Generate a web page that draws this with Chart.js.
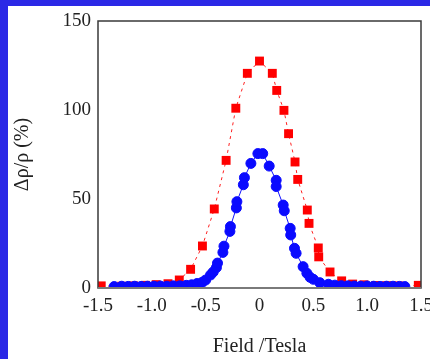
<!DOCTYPE html>
<html lang="en">

<head>
    <meta charset="UTF-8">
    <title>Magnetoresistance</title>
    <script src="https://cdn.jsdelivr.net/npm/chart.js"></script>
    <style>
        body { margin: 0; background: #2b28e6; }
        #painel { position: absolute; left: 8px; top: 6px; width: 422px; height: 353px; background: #fff; }
    </style>
</head>

<body>
    <div id="painel">
        <canvas id="grafico" width="422" height="353"></canvas>
    </div>
</body>

</html>
<script>
    // red squares (dashed line)
    const redField = [-1.47, -1.28, -1.17, -1.06, -0.96, -0.85, -0.745, -0.64, -0.53, -0.42, -0.31, -0.22, -0.113, 0,
        0.119, 0.16, 0.227, 0.27, 0.33, 0.355, 0.444, 0.46, 0.546, 0.55, 0.655, 0.763, 0.865, 0.97, 1.08, 1.18, 1.29, 1.475]
    const redRho = [1.2, 1, 1.2, 1.5, 1.9, 2.4, 4.5, 10.5, 23.6, 44.4, 71.7, 101, 120.6, 127.5,
        120.6, 111, 99.8, 86.7, 70.8, 61, 43.8, 36.3, 22.5, 17.5, 9, 4, 2.2, 1.8, 1.4, 1.3, 1.2, 1.5]

    // blue circles (solid line)
    const blueField = [-1.35, -1.28, -1.22, -1.16, -1.10, -1.04, -0.98, -0.92, -0.86, -0.80, -0.74, -0.68, -0.63, -0.58,
        -0.53, -0.50, -0.455, -0.43, -0.40, -0.39, -0.34, -0.33, -0.275, -0.27, -0.215, -0.21, -0.15, -0.14, -0.08,
        -0.015, 0.03, 0.09, 0.155, 0.155, 0.22, 0.23, 0.285, 0.29, 0.325, 0.34, 0.405, 0.44, 0.47, 0.5, 0.56, 0.64,
        0.7, 0.76, 0.82, 0.88, 0.94, 1.0, 1.06, 1.12, 1.18, 1.24, 1.30, 1.35]
    const blueRho = [0.8, 1.0, 0.9, 1.0, 0.9, 1.0, 1.0, 1.1, 1.0, 1.2, 1.2, 1.5, 1.8, 2.5,
        3.3, 4.5, 7.3, 9, 11.5, 14, 20, 23.5, 31.8, 34.5, 45, 48.5, 58, 62, 70,
        75.5, 75.5, 68.5, 60.5, 57, 46.6, 43.4, 33.5, 29.8, 22.3, 19.5, 12, 8.3, 6, 4.9, 3, 2.1,
        1.6, 1.3, 1.2, 1.1, 1.0, 1.1, 1.0, 0.9, 1.0, 1.0, 0.9, 0.8]

    const xTicks = [-1.5, -1.0, -0.5, 0, 0.5, 1.0, 1.5]
    const yTicks = [0, 50, 100, 150]

    const pares = (xs, ys) => xs.map((x, i) => ({ x: x, y: ys[i] }))

    const caixa = {
        id: 'caixa',
        afterDatasetsDraw(chart) {
            const a = chart.chartArea
            const ctx = chart.ctx
            ctx.save()
            ctx.strokeStyle = '#3a3a3a'
            ctx.lineWidth = 1.5
            ctx.strokeRect(a.left, a.top, a.right - a.left, a.bottom - a.top)
            ctx.strokeStyle = '#7a7a7a'
            ctx.lineWidth = 2
            ctx.beginPath()
            ctx.moveTo(a.left, a.bottom)
            ctx.lineTo(a.right, a.bottom)
            ctx.stroke()
            ctx.restore()
        }
    }

    const fonte = { family: 'Liberation Serif', size: 19 }
    const fonteTitulo = { family: 'Liberation Serif', size: 20 }

    new Chart(
        grafico,
        {
            type: 'scatter',
            data: {
                datasets: [{
                    data: pares(blueField, blueRho),
                    showLine: true,
                    borderColor: '#1010ff',
                    borderWidth: 1,
                    backgroundColor: '#0a0aff',
                    pointBorderColor: '#0a0aff',
                    pointBorderWidth: 1,
                    pointRadius: 5,
                    pointStyle: 'circle',
                    clip: 0
                },
                {
                    data: pares(redField, redRho),
                    showLine: true,
                    borderColor: '#ff2020',
                    borderWidth: 1,
                    borderDash: [3, 4],
                    backgroundColor: '#ff0000',
                    pointBorderWidth: 0,
                    pointRadius: 6.3,
                    pointStyle: 'rect',
                    clip: 0
                }]
            },
            options: {
                responsive: false,
                devicePixelRatio: 1,
                animation: false,
                layout: { padding: { top: 15, right: 9, left: 0, bottom: 0 } },
                plugins: { legend: { display: false }, tooltip: { enabled: false } },
                scales: {
                    x: {
                        type: 'linear',
                        min: -1.5,
                        max: 1.5,
                        afterFit: s => { s.height = 71; s.paddingLeft = 0; s.paddingRight = 0 },
                        afterBuildTicks: s => { s.ticks = xTicks.map(v => ({ value: v })) },
                        grid: { display: false, drawTicks: false },
                        border: { display: false },
                        ticks: {
                            padding: 7,
                            maxRotation: 0,
                            autoSkip: false,
                            color: '#222',
                            font: fonte,
                            callback: v => v === 0 ? '0' : v.toFixed(1)
                        },
                        title: { display: true, text: 'Field /Tesla', color: '#222', font: fonteTitulo, padding: { top: 0, bottom: 0 } }
                    },
                    y: {
                        min: 0,
                        max: 150,
                        afterFit: s => { s.width = 90; s.paddingTop = 0; s.paddingBottom = 0 },
                        afterBuildTicks: s => { s.ticks = yTicks.map(v => ({ value: v })) },
                        grid: { display: false, drawTicks: false },
                        border: { display: false },
                        ticks: { padding: 7, color: '#222', font: fonte },
                        title: { display: true, text: 'Δρ/ρ (%)', color: '#222', font: fonteTitulo, padding: { top: 3, bottom: 0 } }
                    }
                }
            },
            plugins: [caixa]
        }
    )
</script>
